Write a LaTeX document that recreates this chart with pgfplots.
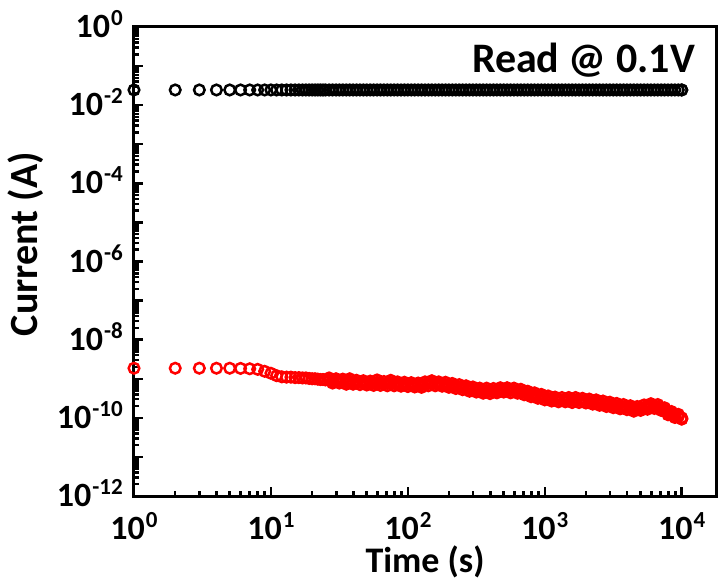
\documentclass[border=0pt]{standalone}
\usepackage{fontspec}
\setmainfont{Carlito}
\usepackage{pgfplots}
\pgfplotsset{compat=1.18}
\usepackage{pgfplotstable}
\newcommand{\tl}[1]{10\kern1pt\raisebox{12pt}{\fontsize{23}{23}\selectfont #1}}

% early points: single seconds, drawn as white-filled circles
\pgfplotstableread{
t b r
1 0.0245 1.86e-9
2 0.0245 1.86e-9
3 0.0245 1.86e-9
4 0.0245 1.86e-9
5 0.0245 1.86e-9
6 0.0245 1.84e-9
7 0.0245 1.80e-9
8 0.0245 1.74e-9
9 0.0245 1.55e-9
10 0.0245 1.38e-9
11 0.0245 1.20e-9
12 0.0245 1.12e-9
13 0.0245 1.10e-9
14 0.0245 1.10e-9
15 0.0245 1.07e-9
16 0.0245 1.07e-9
17 0.0245 1.05e-9
18 0.0245 1.05e-9
19 0.0245 1.02e-9
20 0.0245 1.00e-9
21 0.0245 1.00e-9
22 0.0245 9.77e-10
23 0.0245 9.55e-10
24 0.0245 9.55e-10
25 0.0245 9.33e-10
}\early

% dense part: r = band centre, s = scatter around it
\pgfplotstableread{
t b r s
26.6 0.0245 9.12e-10 1.05e-9
28.2 0.0245 8.91e-10 7.76e-10
29.9 0.0245 8.71e-10 1.00e-9
31.6 0.0245 8.91e-10 7.76e-10
33.5 0.0245 8.51e-10 9.77e-10
35.5 0.0245 8.32e-10 7.25e-10
37.6 0.0245 8.71e-10 1.00e-9
39.8 0.0245 8.32e-10 7.25e-10
42.2 0.0245 7.94e-10 9.12e-10
44.7 0.0245 8.13e-10 7.08e-10
47.3 0.0245 7.76e-10 8.91e-10
50.1 0.0245 7.94e-10 6.92e-10
53.1 0.0245 7.59e-10 8.71e-10
56.2 0.0245 7.76e-10 6.76e-10
59.6 0.0245 8.13e-10 9.33e-10
63.1 0.0245 7.76e-10 6.76e-10
66.8 0.0245 7.41e-10 8.51e-10
70.8 0.0245 7.59e-10 6.61e-10
75.0 0.0245 7.94e-10 9.12e-10
79.4 0.0245 7.59e-10 6.61e-10
84.1 0.0245 7.24e-10 8.31e-10
89.1 0.0245 7.41e-10 6.45e-10
94.4 0.0245 7.08e-10 8.13e-10
100 0.0245 7.24e-10 6.31e-10
105.9 0.0245 6.92e-10 7.94e-10
112.2 0.0245 7.08e-10 6.17e-10
118.9 0.0245 6.76e-10 7.76e-10
125.9 0.0245 6.92e-10 6.03e-10
133.4 0.0245 7.24e-10 8.31e-10
141.3 0.0245 7.59e-10 6.61e-10
149.6 0.0245 7.76e-10 8.91e-10
158.5 0.0245 7.59e-10 6.61e-10
167.9 0.0245 7.24e-10 8.31e-10
177.8 0.0245 7.41e-10 6.45e-10
188.4 0.0245 7.08e-10 8.13e-10
199.5 0.0245 6.92e-10 6.03e-10
211.3 0.0245 6.61e-10 7.59e-10
223.9 0.0245 6.46e-10 5.63e-10
237.1 0.0245 6.17e-10 7.08e-10
251.2 0.0245 6.03e-10 5.25e-10
266.1 0.0245 5.75e-10 6.60e-10
281.8 0.0245 5.50e-10 4.79e-10
298.5 0.0245 5.37e-10 6.16e-10
316.2 0.0245 5.25e-10 4.57e-10
335.0 0.0245 5.01e-10 5.75e-10
354.8 0.0245 4.90e-10 4.27e-10
375.8 0.0245 5.01e-10 5.75e-10
398.1 0.0245 4.79e-10 4.17e-10
421.7 0.0245 4.90e-10 5.63e-10
446.7 0.0245 5.01e-10 4.36e-10
473.2 0.0245 5.13e-10 5.89e-10
501.2 0.0245 5.25e-10 4.57e-10
530.9 0.0245 5.13e-10 5.89e-10
562.3 0.0245 5.01e-10 4.36e-10
595.7 0.0245 5.01e-10 5.75e-10
631.0 0.0245 4.90e-10 4.27e-10
668.3 0.0245 4.68e-10 5.37e-10
707.9 0.0245 4.47e-10 3.89e-10
749.9 0.0245 4.17e-10 4.79e-10
794.3 0.0245 3.98e-10 3.47e-10
841.4 0.0245 3.80e-10 4.36e-10
891.3 0.0245 3.63e-10 3.16e-10
944.1 0.0245 3.47e-10 3.98e-10
1000 0.0245 3.31e-10 2.88e-10
1059 0.0245 3.16e-10 3.63e-10
1122 0.0245 3.09e-10 2.69e-10
1189 0.0245 2.95e-10 3.39e-10
1259 0.0245 2.95e-10 2.57e-10
1334 0.0245 2.88e-10 3.31e-10
1413 0.0245 2.95e-10 2.57e-10
1496 0.0245 2.88e-10 3.31e-10
1585 0.0245 2.82e-10 2.46e-10
1679 0.0245 2.88e-10 3.31e-10
1778 0.0245 2.82e-10 2.46e-10
1884 0.0245 2.75e-10 3.16e-10
1995 0.0245 2.75e-10 2.40e-10
2113 0.0245 2.63e-10 3.02e-10
2239 0.0245 2.57e-10 2.24e-10
2371 0.0245 2.51e-10 2.88e-10
2512 0.0245 2.40e-10 2.09e-10
2661 0.0245 2.34e-10 2.69e-10
2818 0.0245 2.24e-10 1.95e-10
2985 0.0245 2.19e-10 2.51e-10
3162 0.0245 2.09e-10 1.82e-10
3350 0.0245 2.04e-10 2.34e-10
3548 0.0245 1.95e-10 1.70e-10
3758 0.0245 1.91e-10 2.19e-10
3981 0.0245 1.86e-10 1.62e-10
4217 0.0245 1.78e-10 2.04e-10
4467 0.0245 1.70e-10 1.48e-10
4732 0.0245 1.70e-10 1.95e-10
5012 0.0245 1.78e-10 1.55e-10
5309 0.0245 1.86e-10 2.14e-10
5623 0.0245 1.91e-10 1.66e-10
5957 0.0245 2.00e-10 2.30e-10
6310 0.0245 2.00e-10 1.74e-10
6683 0.0245 1.91e-10 2.19e-10
7079 0.0245 1.78e-10 1.55e-10
7499 0.0245 1.58e-10 1.81e-10
7943 0.0245 1.38e-10 1.20e-10
8414 0.0245 1.26e-10 1.45e-10
8913 0.0245 1.17e-10 1.02e-10
9441 0.0245 1.07e-10 1.23e-10
10000 0.0245 9.33e-11 1.00e-10
}\late

% last point of each series (drawn on top, white inside)
\pgfplotstableread{
t b r
10000 0.0245 9.33e-11
}\last

\begin{document}
\begin{tikzpicture}
\useasboundingbox (-134pt,-89pt) rectangle (586pt,496pt);
\begin{axis}[
  at={(0,0)}, anchor=south west,
  scale only axis, width=582pt, height=469pt,
  xmode=log, ymode=log,
  xmin=1, xmax=17800, ymin=1e-12, ymax=1,
  axis line style={line width=3pt},
  tick style={line width=2.5pt, black},
  major tick length=9pt, minor tick length=5pt,
  tick align=inside, tick pos=left,
  xtick={1,10,100,1000,10000},
  xticklabels={\tl{0},\tl{1},\tl{2},\tl{3},\tl{4}},
  minor xtick={2,3,4,5,6,7,8,9,20,30,40,50,60,70,80,90,200,300,400,500,600,700,800,900,2000,3000,4000,5000,6000,7000,8000,9000},
  ytick={1e-12,1e-11,1e-10,1e-9,1e-8,1e-7,1e-6,1e-5,1e-4,1e-3,1e-2,1e-1,1},
  yticklabels={\tl{-12},,\tl{-10},,\tl{-8},,\tl{-6},,\tl{-4},,\tl{-2},,\tl{0}},
  minor ytick={2e-12,3e-12,4e-12,5e-12,6e-12,7e-12,8e-12,9e-12,
               2e-11,3e-11,4e-11,5e-11,6e-11,7e-11,8e-11,9e-11,
               2e-10,3e-10,4e-10,5e-10,6e-10,7e-10,8e-10,9e-10,
               2e-9,3e-9,4e-9,5e-9,6e-9,7e-9,8e-9,9e-9,
               2e-8,3e-8,4e-8,5e-8,6e-8,7e-8,8e-8,9e-8,
               2e-7,3e-7,4e-7,5e-7,6e-7,7e-7,8e-7,9e-7,
               2e-6,3e-6,4e-6,5e-6,6e-6,7e-6,8e-6,9e-6,
               2e-5,3e-5,4e-5,5e-5,6e-5,7e-5,8e-5,9e-5,
               2e-4,3e-4,4e-4,5e-4,6e-4,7e-4,8e-4,9e-4,
               2e-3,3e-3,4e-3,5e-3,6e-3,7e-3,8e-3,9e-3,
               2e-2,3e-2,4e-2,5e-2,6e-2,7e-2,8e-2,9e-2,
               2e-1,3e-1,4e-1,5e-1,6e-1,7e-1,8e-1,9e-1},
  xticklabel style={font=\fontsize{34}{40}\selectfont\bfseries, inner sep=0pt, anchor=base, yshift=-43pt},
  yticklabel style={font=\fontsize{34}{40}\selectfont\bfseries, inner sep=0pt, anchor=base east, xshift=-11pt, yshift=-10.5pt},
  xlabel={Time (s)},
  xlabel style={font=\fontsize{36}{40}\selectfont\bfseries, inner sep=0pt, at={(rel axis cs:0.5,0)}, anchor=base, yshift=-76pt},
  ylabel={Current (A)},
  ylabel style={font=\fontsize{40}{44}\selectfont\bfseries, inner sep=0pt, at={(rel axis cs:0,0.537)}, anchor=base, yshift=96pt},
  mk/.style={only marks, mark=o, mark size=5.3pt},
]
\addplot[mk, black, mark options={line width=2.5pt, fill=white}] table[x=t, y=b] {\early};
\addplot[mk, black, mark options={line width=2.5pt}] table[x=t, y=b] {\late};
\addplot[mk, black, mark options={line width=2.5pt, fill=white}] table[x=t, y=b] {\last};
\addplot[mk, red, mark options={line width=2.5pt, fill=white}] table[x=t, y=r] {\early};
\addplot[mk, red, mark options={line width=2.5pt}] table[x=t, y=s] {\late};
\addplot[mk, red, mark options={line width=2.5pt}] table[x=t, y=r] {\late};
\addplot[mk, red, mark options={line width=2.5pt, fill=white}] table[x=t, y=r] {\last};
\node[anchor=base east, inner sep=0pt, font=\fontsize{42}{46}\selectfont\bfseries] at (rel axis cs:0.964,0.904) {Read @ 0.1V};
\end{axis}
\end{tikzpicture}
\end{document}
